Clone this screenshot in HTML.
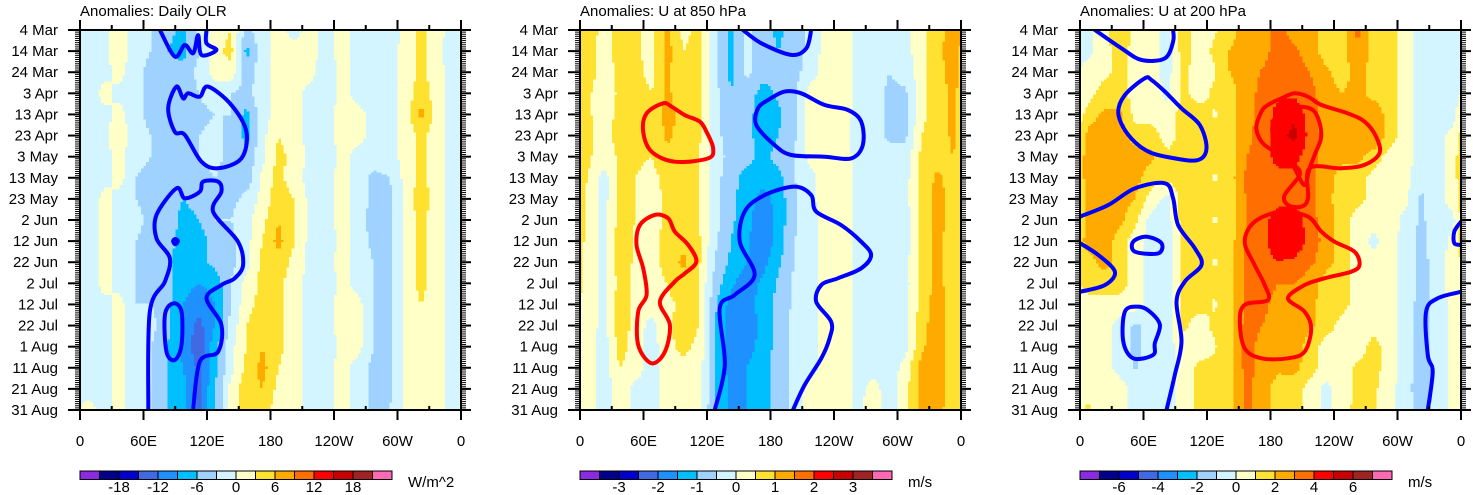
<!DOCTYPE html>
<html><head><meta charset="utf-8"><style>
html,body{margin:0;padding:0;background:#fff;}
svg{display:block;font-family:"Liberation Sans",Arial,sans-serif;}
</style></head><body>
<svg id="chart" width="1473" height="495" viewBox="0 0 1473 495" xmlns="http://www.w3.org/2000/svg"></svg>
<script>
// ---------- data ----------
const gridDays=[0,10,20,30,40,50,60,70,80,90,100,110,120,130,140,150,160,170,180];
const dateLabels=["4 Mar","14 Mar","24 Mar","3 Apr","13 Apr","23 Apr","3 May","13 May","23 May","2 Jun","12 Jun","22 Jun","2 Jul","12 Jul","22 Jul","1 Aug","11 Aug","21 Aug","31 Aug"];
const lonTickLabels=["0","60E","120E","180","120W","60W","0"];
const olrGrid=[
[-3,-1,2,-2,-3,-5,-7,-2,1,3,-4,-1,1,-1,1,-1,1,-1,-1,-2,1,4,1,-1],
[-3,-1,2,-2,-3,-6,-7,-3,2,4,-7,-1,1,1,1,-1,1,-1,-1,-1,1,4,1,-2],
[-2,-1,1,-2,-4,-5,-5,-2,1,2,-5,-1,1,1,1,-2,1,-1,-3,-1,1,4,1,-1],
[-2,1,-1,-2,-4,-6,-5,-3,-1,-3,-4,-1,1,1,-1,-2,1,-1,-2,-1,1,5,1,-1],
[-2,-1,1,-2,-4,-5,-6,-4,-3,-3,-7,-1,1,1,-1,-1,1,1,-1,-1,1,7,1,-1],
[-3,-1,2,-2,-3,-4,-6,-3,-2,-4,-7,-1,3,1,-1,-1,1,1,-1,-1,1,4,1,-1],
[-3,-1,1,-2,-3,-5,-5,-3,-2,-4,-5,-1,4,2,-1,-2,1,-1,-1,-1,1,4,1,-1],
[-2,-1,1,-3,-4,-5,-6,-4,-3,-4,-5,1,4,1,-1,-1,1,-1,-4,-3,1,4,1,-1],
[-3,1,-1,-3,-4,-5,-6,-5,-3,-4,-2,1,5,3,-1,-1,1,-1,-4,-4,1,5,1,-1],
[-2,1,-1,-2,-4,-4,-7,-6,-3,-3,-1,2,6,3,-1,-1,1,-1,-5,-4,1,4,1,-1],
[-3,1,-1,-3,-4,-4,-8,-8,-4,-4,-1,3,7,3,-1,-2,1,-1,-4,-4,1,4,1,-1],
[-2,1,-1,-3,-4,-5,-9,-7,-5,-4,-1,4,5,2,-1,-1,1,-1,-3,-4,1,4,1,-1],
[-2,1,-1,-3,-4,-5,-8,-9,-8,-3,1,4,4,1,-1,-2,1,-1,-3,-4,1,4,1,-1],
[-2,-1,1,-3,-3,-5,-9,-11,-9,-3,2,4,4,1,-1,-1,1,1,-3,-4,1,3,1,-1],
[-1,-1,1,-3,-2,-5,-10,-13,-9,-2,3,5,4,1,-1,-1,1,1,-3,-4,1,1,1,-1],
[-2,-1,1,-2,-3,-6,-10,-14,-7,-1,3,6,4,1,-1,-2,1,1,-3,-4,1,1,1,-1],
[-2,-1,1,-2,-3,-6,-9,-13,-7,-1,4,7,3,1,-1,-1,1,-1,-4,-4,1,1,1,-1],
[-1,-1,1,-2,-3,-6,-8,-13,-6,1,5,6,2,1,-1,-1,1,-1,-4,-4,1,1,1,-1],
[1,-1,1,-2,-3,-6,-8,-13,-6,1,5,4,2,1,-1,-1,1,-1,-4,-3,1,1,1,-1]];
const u850Grid=[
[0.8,0.3,0.7,0.6,0.3,1.1,0.4,0.6,-0.3,-1.2,-0.3,-0.8,-1.1,-0.8,-0.3,0.2,0.3,-0.2,-0.3,-0.3,-0.2,0.3,0.8,1.2],
[0.7,0.3,0.7,0.6,0.3,1.2,0.5,0.6,-0.4,-1.2,-0.3,-0.8,-1.0,-0.8,-0.3,0.2,0.3,-0.2,-0.3,-0.3,-0.2,0.3,0.9,1.2],
[0.7,0.3,0.6,0.7,0.3,1.1,0.6,0.6,-0.4,-1.1,-0.4,-0.8,-0.9,-0.7,-0.2,0.2,0.3,-0.2,-0.3,-0.5,-0.3,0.3,0.8,1.2],
[0.6,0.2,0.6,0.8,0.5,1.1,0.7,0.6,-0.3,-1.0,-0.7,-1.2,-0.9,-0.6,0.2,0.3,0.3,-0.2,-0.3,-0.6,-0.6,0.3,0.8,1.1],
[0.6,0.2,0.7,0.8,0.6,1.2,0.8,0.6,-0.3,-0.9,-0.8,-1.3,-1.1,-0.6,0.3,0.3,0.3,-0.2,-0.3,-0.6,-0.7,0.4,0.7,1.1],
[0.6,0.3,0.7,0.7,0.5,1.1,0.8,0.6,-0.3,-0.8,-0.8,-1.3,-1.0,-0.6,0.3,0.3,0.3,-0.3,-0.3,-0.6,-0.6,0.5,0.7,1.1],
[0.6,0.2,0.6,0.6,0.5,0.9,0.7,0.5,-0.2,-0.7,-0.8,-1.2,-0.8,-0.5,0.2,0.2,0.3,-0.2,-0.3,-0.3,-0.3,0.6,0.8,1.0],
[0.5,-0.2,0.6,0.5,0.3,0.7,0.5,0.5,-0.3,-0.8,-1.2,-1.3,-1.2,-0.5,-0.2,0.3,0.3,-0.2,-0.2,-0.3,-0.2,0.6,1.1,0.8],
[0.4,-0.2,0.6,0.5,0.3,0.6,0.5,0.5,-0.3,-0.9,-1.2,-1.7,-1.3,-0.6,-0.2,0.3,0.3,-0.2,-0.2,-0.4,-0.2,0.7,1.2,0.8],
[0.4,-0.2,0.7,0.5,0.3,0.6,0.6,0.5,-0.3,-0.9,-1.3,-2.0,-1.3,-0.6,-0.2,0.2,0.3,-0.2,-0.2,-0.5,-0.3,0.7,1.2,0.8],
[0.4,-0.2,0.8,0.4,0.3,0.7,0.9,0.6,-0.4,-1.0,-1.4,-1.9,-1.3,-0.5,-0.2,0.2,0.3,-0.2,-0.2,-0.5,-0.3,0.7,1.1,0.8],
[0.4,-0.2,0.8,0.4,0.3,0.7,1.1,0.6,-0.5,-1.1,-1.5,-1.7,-1.1,-0.5,-0.2,0.2,0.3,-0.2,-0.2,-0.3,-0.2,0.7,1.1,0.7],
[0.4,-0.2,0.7,0.4,0.3,0.5,0.8,0.5,-0.7,-1.4,-1.8,-1.4,-0.9,-0.4,-0.2,0.2,0.3,-0.2,-0.2,-0.3,-0.2,0.6,1.2,0.7],
[0.3,-0.2,0.8,0.3,0.3,0.4,0.6,0.5,-0.9,-1.7,-1.8,-1.2,-0.9,-0.4,-0.2,0.2,0.3,-0.2,-0.2,-0.3,-0.2,0.7,1.3,0.7],
[0.3,-0.2,0.8,0.3,-0.2,0.4,0.7,0.5,-1.0,-1.8,-1.8,-1.4,-0.8,-0.3,-0.2,0.2,0.3,-0.2,-0.2,-0.3,-0.2,0.8,1.3,0.7],
[0.3,-0.3,0.7,0.3,-0.3,0.4,0.6,0.4,-1.0,-1.8,-1.7,-1.3,-0.8,-0.3,-0.2,0.2,0.3,-0.2,-0.2,-0.3,-0.2,0.9,1.3,0.7],
[0.3,-0.3,0.5,0.3,-0.3,0.3,0.4,0.3,-1.0,-1.7,-1.5,-1.2,-0.8,-0.3,-0.2,0.2,0.3,-0.2,-0.2,-0.3,0.2,1.2,1.3,0.7],
[0.3,-0.3,0.3,-0.2,-0.3,0.3,0.3,0.3,-1.0,-1.6,-1.5,-1.2,-0.8,-0.3,0.2,0.2,0.3,-0.2,0.2,-0.3,0.3,1.2,1.3,0.7],
[0.3,-0.3,0.3,-0.2,-0.3,0.3,0.3,0.3,-1.1,-1.6,-1.5,-1.2,-0.8,-0.3,0.3,0.2,0.3,-0.2,0.4,-0.3,0.3,1.2,1.2,0.7]];
const u200Grid=[
[-0.3,0.5,2.2,0.5,0.4,-0.5,1.5,0.5,0.9,1.6,2.5,2.5,3.5,2.5,2.5,1.5,1.5,3.2,1.5,1.5,0.5,-0.5,-0.5,-0.4],
[-0.3,0.5,1.5,0.5,0.5,-0.5,1.5,0.5,1.2,2.1,2.5,2.6,3.5,3.2,2.5,1.5,1.5,3.0,1.5,1.5,0.5,-0.5,-0.5,-0.4],
[0.5,0.6,1.5,0.5,0.5,-0.4,1.2,0.6,0.9,2.1,2.5,3.1,3.5,3.5,3.0,2.2,1.5,2.4,1.5,1.5,0.5,-0.5,-0.5,-0.4],
[0.5,1.5,1.5,0.5,0.5,-0.3,1.2,0.6,1.2,1.6,2.6,3.3,3.8,3.8,3.3,2.5,2.0,2.3,1.6,1.5,0.5,-0.4,-0.5,-0.4],
[1.5,2.2,2.2,0.6,0.5,0.5,1.5,1.5,0.9,1.6,2.7,3.4,4.4,4.8,3.5,2.5,2.4,2.5,2.8,1.5,0.5,-0.4,-0.5,-0.4],
[2.3,2.5,2.5,1.5,1.5,0.5,1.5,1.5,1.2,1.6,2.8,3.3,4.6,5.3,3.6,2.6,2.6,2.5,3.0,1.5,0.5,-0.4,-0.4,0.3],
[2.5,2.6,2.6,2.4,2.2,1.2,1.5,1.5,1.2,1.6,3.0,3.4,4.5,4.4,3.4,2.5,2.3,2.3,1.5,0.6,0.4,-0.5,-0.4,0.5],
[2.5,2.6,2.5,2.3,1.5,1.3,1.5,1.5,0.9,1.6,3.2,3.4,3.5,3.6,3.3,2.5,1.5,1.5,0.6,0.5,0.3,-0.5,-0.4,0.5],
[2.4,2.5,2.5,2.0,0.5,-0.3,1.5,1.5,1.2,1.6,3.1,3.5,3.6,3.7,3.3,2.3,1.5,1.4,0.5,0.5,0.3,-1.2,-0.4,0.5],
[2.5,2.6,2.3,1.2,-0.4,-0.5,1.5,1.5,0.9,1.6,3.0,3.6,4.6,4.7,3.4,2.5,1.5,0.5,0.5,0.5,-0.3,-1.2,-0.4,-0.3],
[2.6,2.6,1.5,0.5,-0.5,-0.5,1.3,1.5,1.2,1.6,3.2,3.7,4.7,4.8,3.6,2.6,1.5,0.5,-0.3,0.5,-0.4,-1.3,-0.5,0.3],
[1.5,2.4,1.5,0.5,-0.5,-0.5,1.3,1.5,0.9,1.6,3.2,3.6,4.0,3.8,3.2,2.4,1.5,0.5,0.5,0.5,-0.5,-1.3,-0.6,0.5],
[1.5,1.5,1.4,0.6,-0.5,-0.5,1.2,1.5,1.2,1.6,3.3,3.3,3.0,3.0,2.5,1.5,1.5,0.5,0.5,0.5,-0.5,-1.3,-0.6,0.5],
[0.5,0.6,0.6,0.5,-0.5,-0.6,1.2,1.3,0.9,1.7,3.4,3.2,2.7,2.7,2.3,1.5,1.4,0.5,0.5,0.5,-0.6,-1.3,-0.6,0.4],
[0.5,0.5,-0.4,-1.2,-0.5,-0.5,1.2,0.6,1.2,1.8,3.4,3.0,2.6,2.6,2.2,1.5,0.6,0.5,0.6,0.5,-0.6,-1.3,-0.6,0.4],
[0.5,0.5,-0.5,-1.3,-0.5,-0.5,0.6,0.6,0.9,1.8,3.4,2.6,2.4,2.5,1.5,0.5,0.5,0.5,1.4,0.5,-0.6,-1.3,-0.6,0.4],
[0.5,0.5,-0.4,-1.1,-0.5,-0.5,0.5,1.2,1.2,1.8,3.4,2.5,2.2,2.3,1.5,0.5,0.5,1.2,1.4,0.5,-0.6,-1.4,-0.7,0.4],
[0.5,0.6,0.5,-0.5,-0.5,-0.5,0.5,1.2,1.2,1.8,3.3,2.5,1.5,1.5,0.5,-0.3,0.5,1.2,1.2,0.4,-0.6,-1.6,-0.7,0.4],
[1.2,0.5,0.5,-0.5,-0.5,-0.5,0.5,1.2,1.2,1.8,3.3,2.5,1.5,1.5,0.5,-0.3,0.5,1.4,1.2,0.4,-0.6,-1.3,-0.7,0.4]];
// contour lines: [lon, day] points
const olrContours=[
 {c:"blue",closed:false,pts:[[75.5,0],[89.6,12.6],[99,7.1],[107,11],[111.6,2.4],[114.8,11.8],[128.9,9.5],[119.5,6.3],[119.5,0]]},
 {c:"blue",closed:true,pts:[[91.2,26.8],[83.3,37.1],[89.6,48.2],[99,49.7],[114.8,62.4],[130.5,65.5],[152.5,60.8],[157.2,48.2],[143,35.5],[121,26.8],[113.2,31.6],[102.2,30],[97.5,32.4]]},
 {c:"blue",closed:false,pts:[[64.5,180],[66,133.4],[80.2,119.2],[84.9,108.2],[72.3,98.7],[72.3,87.6],[91.2,75],[99,79.7],[113.2,76.6],[116.3,71.8],[130.5,71.8],[133.6,76.6],[125.8,86],[149.3,100.3],[154.1,111.3],[146.2,117.6],[133.6,120.8],[119.5,127.1],[133.6,139.7],[130.5,152.4],[113.2,157.1],[106.9,180]]},
 {c:"blue",closed:true,pts:[[88,129.5],[80.2,135],[81.7,152.4],[89.6,156.3],[95.9,149.2],[95.9,133.4]]},
 {c:"blue",closed:true,pts:[[90,99],[92.5,100],[90,101.5],[88,100]]}];
const u850Contours=[
 {c:"red",closed:true,pts:[[78.6,34.7],[62.9,39.5],[59.7,48.2],[67.6,57.6],[89.6,62.4],[121,60.8],[125.8,56],[119.5,48.2],[113.2,43.4],[99,40.3],[86.5,36.3]]},
 {c:"red",closed:true,pts:[[70.7,87.6],[56.6,92.4],[53.4,101.8],[59.7,112.9],[62.9,125.5],[55,133.4],[55,149.2],[67.6,157.9],[80.2,152.4],[84.9,139.7],[75.5,128.7],[89.6,119.2],[99,115.3],[110,109.7],[102.2,101.8],[89.6,95.5],[83.3,89.2]]},
 {c:"blue",closed:false,pts:[[154,0],[171.4,6.3],[199.6,11.8],[213.8,8.7],[218.5,0]]},
 {c:"blue",closed:true,pts:[[168.2,37.1],[166.6,45],[183.9,54.5],[199.6,59.2],[231,60],[256.2,60.8],[267.2,54.5],[265.7,43.4],[253.1,37.9],[231,35.5],[209,30],[193.3,29.2],[177.6,33.2]]},
 {c:"blue",closed:false,pts:[[127.3,180],[136.8,158.7],[132,131.8],[146.2,125.5],[165,116],[151,100.3],[155.6,86],[174.5,78.2],[202.8,74.2],[218.5,78.2],[223.2,86],[246.8,92.4],[265.7,100.3],[275.1,106.6],[265.7,112.9],[243.7,117.6],[228,120.8],[223.2,128.7],[237.4,138.2],[235.8,146],[228,155.5],[212.2,168.2],[201.2,180]]}];
const u200Contours=[
 {c:"blue",closed:false,pts:[[14.1,0],[39.3,8.7],[58.2,14.2],[80.2,13.4],[88,5.5],[88,0]]},
 {c:"blue",closed:true,pts:[[61.3,22.9],[42.4,30.8],[36.2,39.5],[45.6,49.7],[64.5,57.6],[89.6,60.8],[111.6,61.6],[119.5,56],[113.2,45],[95.9,37.1],[80.2,29.2],[67.6,23.7]]},
 {c:"blue",closed:false,pts:[[0,88.4],[26.7,82.9],[51.9,75],[80.2,72.6],[88,79.7],[92.7,92.4],[108.5,103.4],[114.8,111.3],[99,119.2],[91.2,128.7],[95.9,147.6],[89.6,163.4],[81.7,180]]},
 {c:"blue",closed:false,pts:[[0,101],[17.3,106.6],[33,114.5],[23.6,120.8],[0,124]]},
 {c:"blue",closed:true,pts:[[50.3,100.3],[51.9,105],[73.9,105.8],[77,101],[62.9,97.9]]},
 {c:"blue",closed:true,pts:[[42.4,133.4],[40.9,147.6],[50.3,155.5],[69.2,153.9],[70.7,148.4],[75.5,139.7],[66,133.4],[55,131]]},
 {c:"blue",closed:false,pts:[[360,90.8],[353.7,95.5],[353.7,101],[360,101.8]]},
 {c:"blue",closed:false,pts:[[360,124],[338,127.1],[327,133.4],[328.6,154],[333.3,161.8],[328.6,180]]},
 {c:"red",closed:true,pts:[[171.4,38.7],[166.6,46.6],[174.5,54.5],[196.5,60.8],[202.8,63.9],[207.5,68.7],[193.3,78.2],[196.5,82.9],[209,83.7],[215.4,79.7],[216.9,65.5],[246.8,65.5],[268.8,63.9],[283,58.4],[279.8,50.5],[268.8,43.4],[253.1,39.5],[228,35.5],[215.4,31.6],[202.8,30],[190.2,32.4],[177.6,35.5]]},
 {c:"red",closed:true,pts:[[183.9,41.8],[182.4,49.7],[196.5,59.2],[204.4,67.1],[212.2,73.4],[216.9,65.5],[221.7,59.2],[228,49.7],[221.7,38.7],[206,36.3],[190.2,38.7]]},
 {c:"red",closed:true,pts:[[155.6,100.3],[165,90.8],[190.2,86],[215.4,88.4],[228,95.5],[240.5,100.3],[259.4,105],[264.1,111.3],[256.2,114.5],[231,117.6],[212.2,120.8],[196.5,127.1],[212.2,133.4],[218.5,141.3],[212.2,152.4],[196.5,155.5],[171.4,155.5],[155.6,150.8],[151,138.2],[155.6,130.2],[177.6,127.9],[174.5,120.8],[165,111.3]]}];

// ---------- rendering ----------
const NS="http://www.w3.org/2000/svg";
const svg=document.getElementById('chart');
const palette=["#8a2be2","#00008b","#0000cd","#4169e1","#1e90ff","#00bfff","#a0d2ff","#d2f5ff","#ffffc8","#ffe132","#ffaa00","#ff6e00","#ff0000","#c80000","#a02323","#ff69b4"];
const PT=30,PB=410,PW=381;
function mk(tag,attrs,parent){const e=document.createElementNS(NS,tag);for(const k in attrs)e.setAttribute(k,attrs[k]);(parent||svg).appendChild(e);return e;}
function sample(grid,lon,day){
  const fi=(lon-7.5)/15; let i0=Math.floor(fi); const tx=fi-i0;
  const i1=((i0+1)%24+24)%24; i0=((i0%24)+24)%24;
  let fj=day/10; if(fj<0)fj=0; if(fj>18)fj=18;
  let j0=Math.floor(fj); if(j0>17)j0=17; const ty=fj-j0; const j1=j0+1;
  const a=grid[j0][i0]*(1-tx)+grid[j0][i1]*tx, b=grid[j1][i0]*(1-tx)+grid[j1][i1]*tx;
  return a*(1-ty)+b*ty;
}
function colorIdx(v,step){let k=Math.floor(v/step)+8;return Math.max(0,Math.min(15,k));}
function smoothPath(pts,closed,xs,ys){
  const P=pts.map(p=>[xs(p[0]),ys(p[1])]);const n=P.length;
  let d="M"+P[0][0].toFixed(1)+","+P[0][1].toFixed(1);
  const segs=closed?n:n-1;
  for(let i=0;i<segs;i++){
    const p0=P[closed?(i-1+n)%n:Math.max(i-1,0)],p1=P[i],p2=P[(i+1)%n],p3=P[closed?(i+2)%n:Math.min(i+2,n-1)];
    const c1=[p1[0]+(p2[0]-p0[0])/6,p1[1]+(p2[1]-p0[1])/6],c2=[p2[0]-(p3[0]-p1[0])/6,p2[1]-(p3[1]-p1[1])/6];
    d+="C"+c1[0].toFixed(1)+","+c1[1].toFixed(1)+" "+c2[0].toFixed(1)+","+c2[1].toFixed(1)+" "+p2[0].toFixed(1)+","+p2[1].toFixed(1);
  }
  if(closed)d+="Z";return d;
}
function panel(px,grid,step,contours,title,unit,name){
  const g=mk('g',{});
  
  
  const xs=lon=>px+lon/360*PW, ys=d=>PT+d/180*(PB-PT);
  const clipId='clip-'+name;
  const cp=mk('clipPath',{id:clipId},g);mk('rect',{x:px,y:PT,width:PW,height:PB-PT},cp);
  const field=mk('g',{'clip-path':'url(#'+clipId+')','shape-rendering':'crispEdges'},g);
  
  
  const dl=2.5;
  for(let d=0;d<=180;d++){
    let start=0,cur=colorIdx(sample(grid,dl/2,d),step);
    for(let i=1;i<=144;i++){
      const k=i<144?colorIdx(sample(grid,i*dl+dl/2,d),step):-1;
      if(k!==cur){
        const r=mk('rect',{x:xs(start*dl).toFixed(2),y:ys(d-0.5).toFixed(2),width:(xs(i*dl)-xs(start*dl)+0.4).toFixed(2),height:((PB-PT)/180+0.4).toFixed(2),fill:palette[cur]},field);
        
        
        start=i;cur=k;
      }
    }
  }
  const cg=mk('g',{'clip-path':'url(#'+clipId+')'},g);
  contours.forEach(c=>{
    const p=mk('path',{d:smoothPath(c.pts,c.closed,xs,ys),fill:'none',stroke:c.c==='red'?'#ff0000':'#0000ff','stroke-width':4,'stroke-linejoin':'round','stroke-linecap':'round'},cg);
    
    
  });
  const fr=mk('rect',{x:px,y:PT,width:PW,height:PB-PT,fill:'none',stroke:'#000','stroke-width':2},g);
  
  
  for(let lon=0;lon<=360;lon+=30){
    const major=(lon%60===0),x=xs(lon);
    mk('line',{x1:x,y1:PT,x2:x,y2:PT-(major?10:5),stroke:'#000','stroke-width':2},g);
    if(major)mk('line',{x1:x,y1:PB,x2:x,y2:PB+10,stroke:'#000','stroke-width':2},g);
    else mk('line',{x1:x,y1:PB,x2:x,y2:PB-4,stroke:'#000','stroke-width':2},g);
  }
  lonTickLabels.forEach((t,i)=>{
    const tx=mk('text',{x:xs(i*60),y:446,'text-anchor':'middle','font-size':15},g);tx.textContent=t;
    
    
  });
  for(let d=0;d<=180;d++){
    const major=d%10===0,L=major?12:5,y=ys(d),w=major?2:1;
    mk('line',{x1:px,y1:y,x2:px-L,y2:y,stroke:'#000','stroke-width':w},g);
    mk('line',{x1:px+PW,y1:y,x2:px+PW+(major?10:5),y2:y,stroke:'#000','stroke-width':w},g);
  }
  dateLabels.forEach((t,i)=>{
    const tx=mk('text',{x:px-22,y:ys(gridDays[i])+5,'text-anchor':'end','font-size':15},g);tx.textContent=t;
    
    
  });
  const tt=mk('text',{x:px,y:16,'font-size':15},g);tt.textContent=title;
  
  
  const cb=mk('g',{},g);
  
  
  const bw=19.5,by=471,bh=8.5;
  palette.forEach((c,k)=>{
    const r=mk('rect',{x:px+k*bw,y:by,width:bw,height:bh,fill:c,stroke:'#000','stroke-width':1},cb);
    
    
  });
  for(let k=2;k<=14;k+=2){
    const v=(k-8)*step;
    const tx=mk('text',{x:px+k*bw,y:492,'text-anchor':'middle','font-size':15},cb);tx.textContent=String(Math.round(v*10)/10);
    
    
  }
  const ut=mk('text',{x:px+328,y:487,'font-size':15},cb);ut.textContent=unit;
  
  
}
panel(80,olrGrid,3,olrContours,"Anomalies: Daily OLR","W/m^2","olr");
panel(580,u850Grid,0.5,u850Contours,"Anomalies: U at 850 hPa","m/s","u850");
panel(1080,u200Grid,1,u200Contours,"Anomalies: U at 200 hPa","m/s","u200");
</script>
</body></html>
